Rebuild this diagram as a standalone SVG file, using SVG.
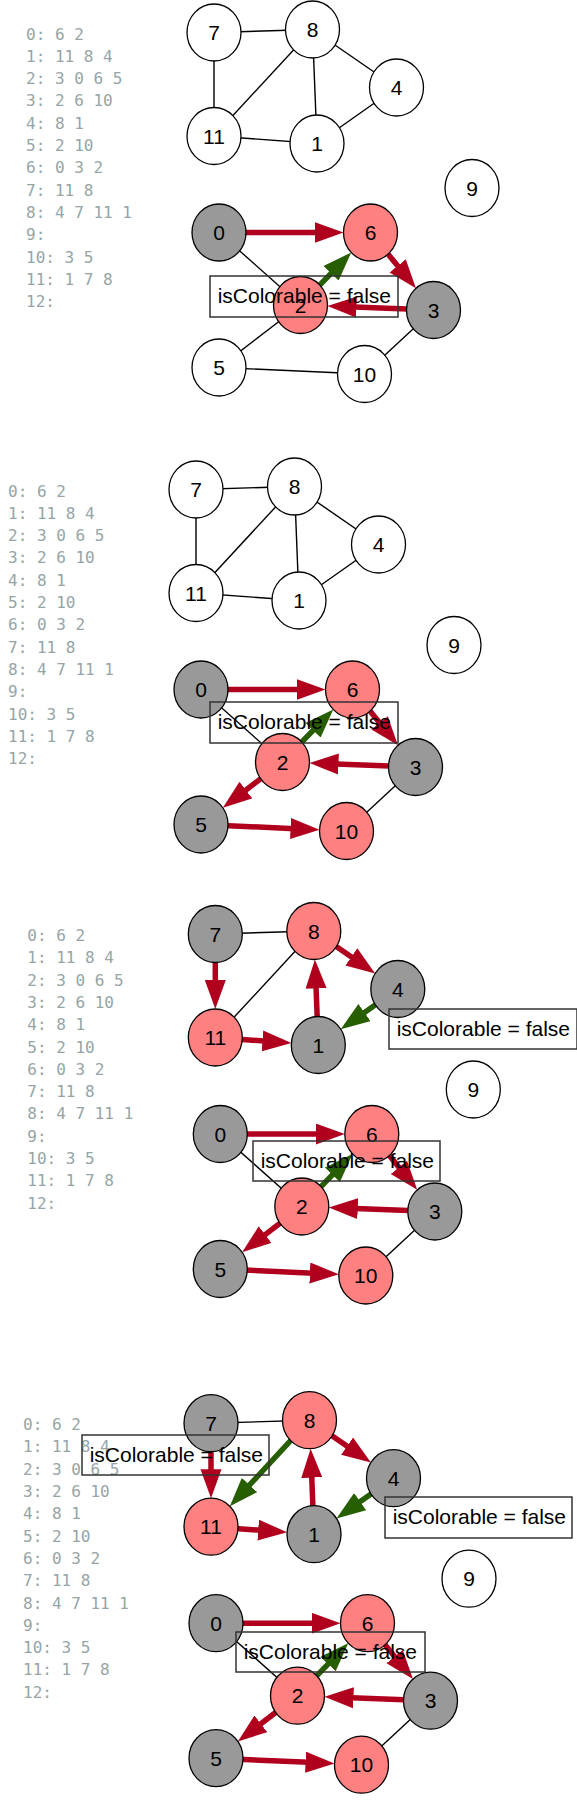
<svg xmlns="http://www.w3.org/2000/svg" width="577" height="1813" viewBox="0 0 577 1813">
<style>
.adj{font-family:"DejaVu Sans Mono","Liberation Mono",monospace;font-size:16px;fill:#95a5a6}
.n ellipse{stroke:#000;stroke-width:1.3}
.n text{font-family:"Liberation Sans",Arial,sans-serif;font-size:21px;fill:#000;text-anchor:middle}
.w{fill:#fff}.g{fill:#999}.p{fill:#ff8080}
.thin{stroke:#000;stroke-width:1.4;fill:none}
.r{stroke:#b0001e;stroke-width:5.5;fill:none;marker-end:url(#ar)}
.gr{stroke:#265e00;stroke-width:5.5;fill:none;marker-end:url(#ag)}
.lb rect{fill:none;stroke:#333;stroke-width:1.5}
.lb text{font-family:"Liberation Sans",Arial,sans-serif;font-size:21px;fill:#000}
</style>
<defs>
<marker id="ar" markerUnits="userSpaceOnUse" markerWidth="30" markerHeight="22" refX="9" refY="10.5" orient="auto" viewBox="0 0 30 22"><path d="M0,0 L29,10.5 L0,21 z" fill="#b0001e"/></marker>
<marker id="ag" markerUnits="userSpaceOnUse" markerWidth="30" markerHeight="22" refX="9" refY="10.5" orient="auto" viewBox="0 0 30 22"><path d="M0,0 L29,10.5 L0,21 z" fill="#265e00"/></marker>
</defs>

<!-- Panel 1 -->
<g id="panel1">
<text class="adj" x="26" y="39.5"><tspan x="26">0: 6 2</tspan><tspan x="26" dy="22.3">1: 11 8 4</tspan><tspan x="26" dy="22.3">2: 3 0 6 5</tspan><tspan x="26" dy="22.3">3: 2 6 10</tspan><tspan x="26" dy="22.3">4: 8 1</tspan><tspan x="26" dy="22.3">5: 2 10</tspan><tspan x="26" dy="22.3">6: 0 3 2</tspan><tspan x="26" dy="22.3">7: 11 8</tspan><tspan x="26" dy="22.3">8: 4 7 11 1</tspan><tspan x="26" dy="22.3">9:</tspan><tspan x="26" dy="22.3">10: 3 5</tspan><tspan x="26" dy="22.3">11: 1 7 8</tspan><tspan x="26" dy="22.3">12:</tspan></text>
<g id="p1-edges">
<line class="thin" x1="214" y1="32.5" x2="312.5" y2="29.5"/>
<line class="thin" x1="214" y1="32.5" x2="214" y2="136"/>
<line class="thin" x1="312.5" y1="29.5" x2="214" y2="136"/>
<line class="thin" x1="312.5" y1="29.5" x2="317" y2="143.5"/>
<line class="thin" x1="312.5" y1="29.5" x2="396.5" y2="87.5"/>
<line class="thin" x1="396.5" y1="87.5" x2="317" y2="143.5"/>
<line class="thin" x1="214" y1="136" x2="317" y2="143.5"/>
<line class="thin" x1="219" y1="232.5" x2="300.5" y2="305"/>
<line class="thin" x1="300.5" y1="305" x2="219" y2="367.5"/>
<line class="thin" x1="219" y1="367.5" x2="364.5" y2="374"/>
<line class="thin" x1="364.5" y1="374" x2="433.5" y2="310"/>
<line class="r" x1="219" y1="232.5" x2="323.5" y2="232.5"/>
<line class="r" x1="370.5" y1="232.5" x2="403.3" y2="272.85"/>
<line class="r" x1="433.5" y1="310" x2="347.47" y2="306.77"/>
<line class="gr" x1="300.5" y1="305" x2="337.33" y2="266.85"/>
</g>
<g id="p1-n7" class="n"><ellipse class="w" cx="214" cy="32.5" rx="27" ry="28.5"/><text x="214" y="40">7</text></g>
<g id="p1-n8" class="n"><ellipse class="w" cx="312.5" cy="29.5" rx="27" ry="28.5"/><text x="312.5" y="37">8</text></g>
<g id="p1-n4" class="n"><ellipse class="w" cx="396.5" cy="87.5" rx="27" ry="28.5"/><text x="396.5" y="95">4</text></g>
<g id="p1-n11" class="n"><ellipse class="w" cx="214" cy="136" rx="27" ry="28.5"/><text x="214" y="143.5">11</text></g>
<g id="p1-n1" class="n"><ellipse class="w" cx="317" cy="143.5" rx="27" ry="28.5"/><text x="317" y="151">1</text></g>
<g id="p1-n9" class="n"><ellipse class="w" cx="472" cy="188" rx="27" ry="28.5"/><text x="472" y="195.5">9</text></g>
<g id="p1-n0" class="n"><ellipse class="g" cx="219" cy="232.5" rx="27" ry="28.5"/><text x="219" y="240">0</text></g>
<g id="p1-n6" class="n"><ellipse class="p" cx="370.5" cy="232.5" rx="27" ry="28.5"/><text x="370.5" y="240">6</text></g>
<g id="p1-n2" class="n"><ellipse class="p" cx="300.5" cy="305" rx="27" ry="28.5"/><text x="300.5" y="312.5">2</text></g>
<g id="p1-n3" class="n"><ellipse class="g" cx="433.5" cy="310" rx="27" ry="28.5"/><text x="433.5" y="317.5">3</text></g>
<g id="p1-n5" class="n"><ellipse class="w" cx="219" cy="367.5" rx="27" ry="28.5"/><text x="219" y="375">5</text></g>
<g id="p1-n10" class="n"><ellipse class="w" cx="364.5" cy="374" rx="27" ry="28.5"/><text x="364.5" y="381.5">10</text></g>
</g>

<!-- Panel 2 -->
<g id="panel2" transform="translate(-18,457)">
<text class="adj" x="26" y="39.5"><tspan x="26">0: 6 2</tspan><tspan x="26" dy="22.3">1: 11 8 4</tspan><tspan x="26" dy="22.3">2: 3 0 6 5</tspan><tspan x="26" dy="22.3">3: 2 6 10</tspan><tspan x="26" dy="22.3">4: 8 1</tspan><tspan x="26" dy="22.3">5: 2 10</tspan><tspan x="26" dy="22.3">6: 0 3 2</tspan><tspan x="26" dy="22.3">7: 11 8</tspan><tspan x="26" dy="22.3">8: 4 7 11 1</tspan><tspan x="26" dy="22.3">9:</tspan><tspan x="26" dy="22.3">10: 3 5</tspan><tspan x="26" dy="22.3">11: 1 7 8</tspan><tspan x="26" dy="22.3">12:</tspan></text>
<g id="p2-edges">
<line class="thin" x1="214" y1="32.5" x2="312.5" y2="29.5"/>
<line class="thin" x1="214" y1="32.5" x2="214" y2="136"/>
<line class="thin" x1="312.5" y1="29.5" x2="214" y2="136"/>
<line class="thin" x1="312.5" y1="29.5" x2="317" y2="143.5"/>
<line class="thin" x1="312.5" y1="29.5" x2="396.5" y2="87.5"/>
<line class="thin" x1="396.5" y1="87.5" x2="317" y2="143.5"/>
<line class="thin" x1="214" y1="136" x2="317" y2="143.5"/>
<line class="thin" x1="219" y1="232.5" x2="300.5" y2="305"/>
<line class="thin" x1="364.5" y1="374" x2="433.5" y2="310"/>
<line class="r" x1="219" y1="232.5" x2="323.5" y2="232.5"/>
<line class="r" x1="370.5" y1="232.5" x2="403.3" y2="272.85"/>
<line class="r" x1="433.5" y1="310" x2="347.47" y2="306.77"/>
<line class="gr" x1="300.5" y1="305" x2="337.33" y2="266.85"/>
<line class="r" x1="300.5" y1="305" x2="256.72" y2="338.58"/>
<line class="r" x1="219" y1="367.5" x2="317.55" y2="371.9"/>
</g>
<g id="p2-n7" class="n"><ellipse class="w" cx="214" cy="32.5" rx="27" ry="28.5"/><text x="214" y="40">7</text></g>
<g id="p2-n8" class="n"><ellipse class="w" cx="312.5" cy="29.5" rx="27" ry="28.5"/><text x="312.5" y="37">8</text></g>
<g id="p2-n4" class="n"><ellipse class="w" cx="396.5" cy="87.5" rx="27" ry="28.5"/><text x="396.5" y="95">4</text></g>
<g id="p2-n11" class="n"><ellipse class="w" cx="214" cy="136" rx="27" ry="28.5"/><text x="214" y="143.5">11</text></g>
<g id="p2-n1" class="n"><ellipse class="w" cx="317" cy="143.5" rx="27" ry="28.5"/><text x="317" y="151">1</text></g>
<g id="p2-n9" class="n"><ellipse class="w" cx="472" cy="188" rx="27" ry="28.5"/><text x="472" y="195.5">9</text></g>
<g id="p2-n0" class="n"><ellipse class="g" cx="219" cy="232.5" rx="27" ry="28.5"/><text x="219" y="240">0</text></g>
<g id="p2-n6" class="n"><ellipse class="p" cx="370.5" cy="232.5" rx="27" ry="28.5"/><text x="370.5" y="240">6</text></g>
<g id="p2-n2" class="n"><ellipse class="p" cx="300.5" cy="305" rx="27" ry="28.5"/><text x="300.5" y="312.5">2</text></g>
<g id="p2-n3" class="n"><ellipse class="g" cx="433.5" cy="310" rx="27" ry="28.5"/><text x="433.5" y="317.5">3</text></g>
<g id="p2-n5" class="n"><ellipse class="g" cx="219" cy="367.5" rx="27" ry="28.5"/><text x="219" y="375">5</text></g>
<g id="p2-n10" class="n"><ellipse class="p" cx="364.5" cy="374" rx="27" ry="28.5"/><text x="364.5" y="381.5">10</text></g>
</g>

<!-- Panel 3 -->
<g id="panel3" transform="translate(1.3,901.5)">
<text class="adj" x="26" y="39.5"><tspan x="26">0: 6 2</tspan><tspan x="26" dy="22.3">1: 11 8 4</tspan><tspan x="26" dy="22.3">2: 3 0 6 5</tspan><tspan x="26" dy="22.3">3: 2 6 10</tspan><tspan x="26" dy="22.3">4: 8 1</tspan><tspan x="26" dy="22.3">5: 2 10</tspan><tspan x="26" dy="22.3">6: 0 3 2</tspan><tspan x="26" dy="22.3">7: 11 8</tspan><tspan x="26" dy="22.3">8: 4 7 11 1</tspan><tspan x="26" dy="22.3">9:</tspan><tspan x="26" dy="22.3">10: 3 5</tspan><tspan x="26" dy="22.3">11: 1 7 8</tspan><tspan x="26" dy="22.3">12:</tspan></text>
<g id="p3-edges">
<line class="thin" x1="214" y1="32.5" x2="312.5" y2="29.5"/>
<line class="thin" x1="312.5" y1="29.5" x2="214" y2="136"/>
<line class="thin" x1="219" y1="232.5" x2="300.5" y2="305"/>
<line class="thin" x1="364.5" y1="374" x2="433.5" y2="310"/>
<line class="r" x1="214" y1="32.5" x2="214" y2="87.5"/>
<line class="r" x1="214" y1="136" x2="270.12" y2="140.09"/>
<line class="r" x1="317" y1="143.5" x2="314.41" y2="77.96"/>
<line class="r" x1="312.5" y1="29.5" x2="357.45" y2="60.53"/>
<line class="gr" x1="396.5" y1="87.5" x2="355.81" y2="116.16"/>
<line class="r" x1="219" y1="232.5" x2="323.5" y2="232.5"/>
<line class="r" x1="370.5" y1="232.5" x2="403.3" y2="272.85"/>
<line class="r" x1="433.5" y1="310" x2="347.47" y2="306.77"/>
<line class="gr" x1="300.5" y1="305" x2="337.33" y2="266.85"/>
<line class="r" x1="300.5" y1="305" x2="256.72" y2="338.58"/>
<line class="r" x1="219" y1="367.5" x2="317.55" y2="371.9"/>
</g>
<g id="p3-n7" class="n"><ellipse class="g" cx="214" cy="32.5" rx="27" ry="28.5"/><text x="214" y="40">7</text></g>
<g id="p3-n8" class="n"><ellipse class="p" cx="312.5" cy="29.5" rx="27" ry="28.5"/><text x="312.5" y="37">8</text></g>
<g id="p3-n4" class="n"><ellipse class="g" cx="396.5" cy="87.5" rx="27" ry="28.5"/><text x="396.5" y="95">4</text></g>
<g id="p3-n11" class="n"><ellipse class="p" cx="214" cy="136" rx="27" ry="28.5"/><text x="214" y="143.5">11</text></g>
<g id="p3-n1" class="n"><ellipse class="g" cx="317" cy="143.5" rx="27" ry="28.5"/><text x="317" y="151">1</text></g>
<g id="p3-n9" class="n"><ellipse class="w" cx="472" cy="188" rx="27" ry="28.5"/><text x="472" y="195.5">9</text></g>
<g id="p3-n0" class="n"><ellipse class="g" cx="219" cy="232.5" rx="27" ry="28.5"/><text x="219" y="240">0</text></g>
<g id="p3-n6" class="n"><ellipse class="p" cx="370.5" cy="232.5" rx="27" ry="28.5"/><text x="370.5" y="240">6</text></g>
<g id="p3-n2" class="n"><ellipse class="p" cx="300.5" cy="305" rx="27" ry="28.5"/><text x="300.5" y="312.5">2</text></g>
<g id="p3-n3" class="n"><ellipse class="g" cx="433.5" cy="310" rx="27" ry="28.5"/><text x="433.5" y="317.5">3</text></g>
<g id="p3-n5" class="n"><ellipse class="g" cx="219" cy="367.5" rx="27" ry="28.5"/><text x="219" y="375">5</text></g>
<g id="p3-n10" class="n"><ellipse class="p" cx="364.5" cy="374" rx="27" ry="28.5"/><text x="364.5" y="381.5">10</text></g>
</g>

<!-- Panel 4 -->
<g id="panel4" transform="translate(-3,1390.7)">
<text class="adj" x="26" y="39.5"><tspan x="26">0: 6 2</tspan><tspan x="26" dy="22.3">1: 11 8 4</tspan><tspan x="26" dy="22.3">2: 3 0 6 5</tspan><tspan x="26" dy="22.3">3: 2 6 10</tspan><tspan x="26" dy="22.3">4: 8 1</tspan><tspan x="26" dy="22.3">5: 2 10</tspan><tspan x="26" dy="22.3">6: 0 3 2</tspan><tspan x="26" dy="22.3">7: 11 8</tspan><tspan x="26" dy="22.3">8: 4 7 11 1</tspan><tspan x="26" dy="22.3">9:</tspan><tspan x="26" dy="22.3">10: 3 5</tspan><tspan x="26" dy="22.3">11: 1 7 8</tspan><tspan x="26" dy="22.3">12:</tspan></text>
<g id="p4-edges">
<line class="thin" x1="214" y1="32.5" x2="312.5" y2="29.5"/>
<line class="thin" x1="219" y1="232.5" x2="300.5" y2="305"/>
<line class="thin" x1="364.5" y1="374" x2="433.5" y2="310"/>
<line class="r" x1="214" y1="32.5" x2="214" y2="87.5"/>
<line class="r" x1="214" y1="136" x2="270.12" y2="140.09"/>
<line class="r" x1="317" y1="143.5" x2="314.41" y2="77.96"/>
<line class="r" x1="312.5" y1="29.5" x2="357.45" y2="60.53"/>
<line class="gr" x1="396.5" y1="87.5" x2="355.81" y2="116.16"/>
<line class="gr" x1="312.5" y1="29.5" x2="246.44" y2="100.92"/>
<line class="r" x1="219" y1="232.5" x2="323.5" y2="232.5"/>
<line class="r" x1="370.5" y1="232.5" x2="403.3" y2="272.85"/>
<line class="r" x1="433.5" y1="310" x2="347.47" y2="306.77"/>
<line class="gr" x1="300.5" y1="305" x2="337.33" y2="266.85"/>
<line class="r" x1="300.5" y1="305" x2="256.72" y2="338.58"/>
<line class="r" x1="219" y1="367.5" x2="317.55" y2="371.9"/>
</g>
<g id="p4-n7" class="n"><ellipse class="g" cx="214" cy="32.5" rx="27" ry="28.5"/><text x="214" y="40">7</text></g>
<g id="p4-n8" class="n"><ellipse class="p" cx="312.5" cy="29.5" rx="27" ry="28.5"/><text x="312.5" y="37">8</text></g>
<g id="p4-n4" class="n"><ellipse class="g" cx="396.5" cy="87.5" rx="27" ry="28.5"/><text x="396.5" y="95">4</text></g>
<g id="p4-n11" class="n"><ellipse class="p" cx="214" cy="136" rx="27" ry="28.5"/><text x="214" y="143.5">11</text></g>
<g id="p4-n1" class="n"><ellipse class="g" cx="317" cy="143.5" rx="27" ry="28.5"/><text x="317" y="151">1</text></g>
<g id="p4-n9" class="n"><ellipse class="w" cx="472" cy="188" rx="27" ry="28.5"/><text x="472" y="195.5">9</text></g>
<g id="p4-n0" class="n"><ellipse class="g" cx="219" cy="232.5" rx="27" ry="28.5"/><text x="219" y="240">0</text></g>
<g id="p4-n6" class="n"><ellipse class="p" cx="370.5" cy="232.5" rx="27" ry="28.5"/><text x="370.5" y="240">6</text></g>
<g id="p4-n2" class="n"><ellipse class="p" cx="300.5" cy="305" rx="27" ry="28.5"/><text x="300.5" y="312.5">2</text></g>
<g id="p4-n3" class="n"><ellipse class="g" cx="433.5" cy="310" rx="27" ry="28.5"/><text x="433.5" y="317.5">3</text></g>
<g id="p4-n5" class="n"><ellipse class="g" cx="219" cy="367.5" rx="27" ry="28.5"/><text x="219" y="375">5</text></g>
<g id="p4-n10" class="n"><ellipse class="p" cx="364.5" cy="374" rx="27" ry="28.5"/><text x="364.5" y="381.5">10</text></g>
</g>

<!-- Labels -->
<g id="labels" class="lb">
<g id="label1"><rect x="210" y="276" width="188" height="41"/><text x="217.7" y="303.3">isColorable = false</text></g>
<g id="label2"><rect x="210" y="702" width="188" height="41"/><text x="217.7" y="729.3">isColorable = false</text></g>
<g id="label3a"><rect x="389" y="1009" width="188" height="40"/><text x="396.7" y="1036.3">isColorable = false</text></g>
<g id="label3b"><rect x="253" y="1141" width="187" height="40"/><text x="260.7" y="1168.3">isColorable = false</text></g>
<g id="label4a"><rect x="82" y="1435" width="187" height="40"/><text x="89.7" y="1462.3">isColorable = false</text></g>
<g id="label4b"><rect x="385" y="1497" width="187" height="41"/><text x="392.7" y="1524.3">isColorable = false</text></g>
<g id="label4c"><rect x="236" y="1632" width="189" height="40"/><text x="243.7" y="1659.3">isColorable = false</text></g>
</g>
</svg>
